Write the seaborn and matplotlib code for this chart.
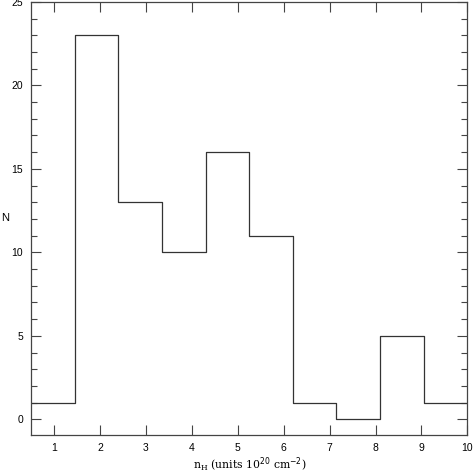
import seaborn as sns
import matplotlib.pyplot as plt
import numpy as np
from matplotlib.ticker import MultipleLocator

# límites de los intervalos y cuentas
bordes = [0.5, 1.45, 2.4, 3.35, 4.3, 5.25, 6.2, 7.15, 8.1, 9.05, 10.0]
cuentas = [1, 23, 13, 10, 16, 11, 1, 0, 5, 1]

centros = [(bordes[i] + bordes[i + 1]) / 2 for i in range(len(cuentas))]

sns.set_style("ticks")
plt.rcParams['font.family'] = ['Liberation Sans', 'DejaVu Sans']

fig = plt.figure(figsize=(4.73, 4.73), dpi=100)
ax = fig.add_axes([0.066, 0.080, 0.922, 0.916])

sns.histplot(x=centros, weights=cuentas, bins=bordes, element="step", fill=False,
             color="#333333", linewidth=0.9, ax=ax)

ax.set_xlim(0.5, 10)
ax.set_ylim(-0.95, 25)
ax.xaxis.set_major_locator(MultipleLocator(1))
ax.yaxis.set_major_locator(MultipleLocator(5))
ax.yaxis.set_minor_locator(MultipleLocator(1))
ax.tick_params(which="both", direction="in", top=True, right=True, labelsize=7.5,
               color="#444444", labelcolor="black", width=0.8)
ax.tick_params(which="major", length=7, pad=6)
ax.tick_params(which="minor", length=4)
for s in ax.spines.values():
    s.set_linewidth(0.9)
    s.set_color("#444444")

ax.set_xlabel(r"n$_\mathregular{H}$ (units 10$^{20}$ cm$^{-2}$)", family="DejaVu Serif",
              fontsize=7.8, labelpad=2, color="black")
ax.set_ylabel("N", rotation=0, fontsize=8, color="black")
ax.yaxis.set_label_coords(-0.06, 0.49)

fig.savefig("out.png", dpi=100)
